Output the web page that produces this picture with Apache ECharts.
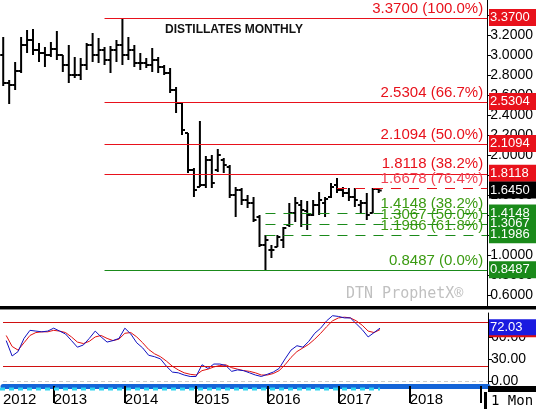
<!DOCTYPE html>
<html>
<head>
<meta charset="utf-8">
<script src="https://cdn.jsdelivr.net/npm/echarts@6/dist/echarts.min.js"></script>
<style>html,body{margin:0;padding:0;background:#fff}#main{width:536px;height:409px}</style>
</head>
<body>
<div id="main"></div>
<script>
// month index: 0 = Jan 2012; first bar is May 2012
var firstMonth = 4;
var opens  = [3.00,2.72,2.70,2.84,3.10,3.15,3.05,3.02,3.00,3.06,3.00,2.90,2.80,2.80,2.90,3.10,3.00,3.05,2.95,3.05,3.10,3.00,3.05,2.92,2.92,2.90,2.95,2.88,2.82,2.65,2.52,2.22,1.85,1.68,1.70,1.95,1.85,1.95,1.88,1.60,1.65,1.55,1.52,1.38,1.10,1.05,1.08,1.15,1.30,1.42,1.50,1.44,1.40,1.50,1.52,1.58,1.70,1.65,1.62,1.58,1.50,1.52,1.42,1.66];
var highs  = [3.18,2.75,2.93,3.18,3.25,3.26,3.12,3.08,3.13,3.24,3.00,3.10,2.98,2.97,3.12,3.22,3.17,3.08,3.09,3.15,3.37,3.18,3.10,3.02,2.97,3.07,2.98,2.90,2.87,2.68,2.53,2.22,1.87,2.34,1.99,2.00,2.06,1.97,1.90,1.68,1.67,1.60,1.58,1.40,1.20,1.10,1.20,1.28,1.52,1.58,1.55,1.54,1.55,1.63,1.58,1.72,1.77,1.68,1.67,1.67,1.55,1.62,1.67,1.67];
var lows   = [2.69,2.51,2.65,2.82,3.02,3.00,2.93,2.88,2.98,2.95,2.83,2.72,2.77,2.75,2.85,2.93,2.92,2.90,2.82,2.93,2.90,2.95,2.88,2.85,2.87,2.83,2.82,2.80,2.62,2.42,2.20,1.82,1.58,1.68,1.67,1.67,1.83,1.82,1.57,1.38,1.50,1.47,1.33,1.08,0.85,0.97,1.08,1.07,1.28,1.33,1.28,1.25,1.39,1.40,1.38,1.57,1.62,1.58,1.54,1.48,1.42,1.35,1.42,1.62];
var closes = [2.72,2.70,2.84,3.10,3.15,3.05,3.02,3.00,3.06,3.00,2.90,2.80,2.80,2.90,3.10,3.00,3.05,2.95,3.05,3.10,3.00,3.05,2.92,2.92,2.90,2.95,2.88,2.82,2.65,2.52,2.25,1.85,1.65,1.70,1.95,1.72,2.00,1.90,1.60,1.65,1.55,1.52,1.35,1.10,1.15,1.05,1.18,1.27,1.42,1.52,1.45,1.40,1.50,1.55,1.56,1.68,1.65,1.62,1.58,1.55,1.52,1.40,1.66,1.645];
var stochK = [55,34,40,58,69,68,67,68,72,68,64,55,46,49,58,68,60,53,55,58,72,64,52,45,35,33,30,20,12,11,8,6,6,22,17,23,23,21,13,15,14,11,8,6,9,12,17,30,42,48,46,54,65,72,82,89,88,86,86,78,70,60,66,72.03];
var stochD = [62,47,42,52,62,66,67,67,69,68,66,60,53,51,54,60,62,58,55,57,65,66,60,52,43,37,33,27,20,15,11,9,8,14,16,19,21,22,18,16,14,13,11,8,8,10,14,22,32,40,45,50,57,65,74,82,86,87,86,82,76,68,66,70];
var yearLabels = ['2012','2013','2014','2015','2016','2017','2018'];
// [value, text label, start month]
var fibRed   = [[3.37,'3.3700 (100.0%)',21],[2.5304,'2.5304 (66.7%)',21],[2.1094,'2.1094 (50.0%)',21],[1.8118,'1.8118 (38.2%)',21]];
var fibGreen = [[1.4148,'1.4148 (38.2%)',48],[1.3067,'1.3067 (50.0%)',48],[1.1986,'1.1986 (61.8%)',48]];
var fibLow   = [0.8487,'0.8487 (0.0%)',21];
var retrace  = [1.6678,'1.6678 (76.4%)',60];
var lastPrice = 1.645;

var XMIN = 3.46, XMAX = 85.2;
var RED = '#e8111b', GREEN = '#1a8a1a', LGREEN = '#3a9a10';
var fnt = 'Liberation Sans, Arial, sans-serif';

var ohlc = opens.map(function (o, i) {
  return [firstMonth + i, o, highs[i], lows[i], closes[i]];
});
var kData = stochK.map(function (v, i) { return [firstMonth + i, v]; });
var dData = stochD.map(function (v, i) { return [firstMonth + i, v]; });

function lineItem(v, txt, start, color, type, txtColor) {
  return [
    {coord: [start, v], lineStyle: {color: color, type: type, width: 1},
     label: {show: true, position: 'insideEndTop', formatter: txt, color: txtColor || color,
             fontSize: 15, fontFamily: fnt, distance: [4, 2]}},
    {coord: [XMAX, v]}
  ];
}

var marks = [];
fibRed.forEach(function (f) { marks.push(lineItem(f[0], f[1], f[2], RED, 'solid')); });
marks.push(lineItem(retrace[0], retrace[1], retrace[2], RED, [10, 8], '#f04050'));
fibGreen.forEach(function (f) { marks.push(lineItem(f[0], f[1], f[2], GREEN, [10, 8], LGREEN)); });
marks.push(lineItem(fibLow[0], fibLow[1], fibLow[2], GREEN, 'solid', LGREEN));

var priceTicks = [0.6,0.8,1.0,1.2,1.4,1.6,1.8,2.0,2.2,2.4,2.6,2.8,3.0,3.2,3.4];
var yearTicks = [12, 24, 36, 48, 60, 72, 84];

var chart = echarts.init(document.getElementById('main'));
chart.setOption({
  animation: false,
  grid: [
    {left: 0, right: 48, top: 0, height: 306},
    {left: 0, right: 48, top: 313, height: 73}
  ],
  xAxis: [
    {gridIndex: 0, type: 'value', min: XMIN, max: XMAX, show: false},
    {gridIndex: 1, type: 'value', min: XMIN, max: XMAX, splitLine: {show: false},
     axisLine: {show: true, onZero: false, lineStyle: {color: '#1565d8', width: 5}},
     axisTick: {show: true, length: 17, customValues: yearTicks, lineStyle: {color: '#000', width: 2}},
     axisLabel: {customValues: [XMIN, 12, 24, 36, 48, 60, 72], color: '#000', fontSize: 15, fontFamily: fnt,
                 align: 'left', margin: 6,
                 formatter: function (v) { return v < 12 ? yearLabels[0] : yearLabels[Math.round(v / 12)]; }}}
  ],
  yAxis: [
    {gridIndex: 0, type: 'value', position: 'right', min: 0.49, max: 3.55, splitLine: {show: false},
     axisLine: {show: true, lineStyle: {color: '#000'}},
     axisTick: {show: true, customValues: priceTicks, length: 4, lineStyle: {color: '#000'}},
     axisLabel: {customValues: priceTicks, color: '#000', fontSize: 14, fontFamily: fnt, margin: 3,
                 formatter: function (v) { return v.toFixed(4); }}},
    {gridIndex: 1, type: 'value', position: 'right', min: -7, max: 92.7, splitLine: {show: false},
     axisLine: {show: true, lineStyle: {color: '#000'}},
     axisTick: {show: true, customValues: [0, 30, 60], length: 4, lineStyle: {color: '#000'}},
     axisLabel: {customValues: [0, 30, 60], color: '#000', fontSize: 14, fontFamily: fnt, margin: 3,
                 formatter: function (v) { return v.toFixed(2); }}}
  ],
  series: [
    {type: 'custom', xAxisIndex: 0, yAxisIndex: 0, data: ohlc, clip: false,
     renderItem: function (params, api) {
       var x = api.coord([api.value(0), 0])[0];
       var yo = api.coord([0, api.value(1)])[1];
       var yh = api.coord([0, api.value(2)])[1];
       var yl = api.coord([0, api.value(3)])[1];
       var yc = api.coord([0, api.value(4)])[1];
       var st = {stroke: '#000', lineWidth: 2};
       return {type: 'group', children: [
         {type: 'line', shape: {x1: x, y1: yh, x2: x, y2: yl}, style: st},
         {type: 'line', shape: {x1: x - 3, y1: yo, x2: x, y2: yo}, style: st},
         {type: 'line', shape: {x1: x, y1: yc, x2: x + 3, y2: yc}, style: st}
       ]};
     },
     markLine: {silent: true, symbol: 'none', data: marks}},
    {type: 'line', xAxisIndex: 1, yAxisIndex: 1, data: dData, symbol: 'none',
     lineStyle: {color: '#e01010', width: 1},
     markLine: {silent: true, symbol: 'none', label: {show: false},
       data: [
         {yAxis: 80, lineStyle: {color: '#d01010', width: 1, type: 'solid'}},
         {yAxis: 20, lineStyle: {color: '#d01010', width: 1, type: 'solid'}},
         {yAxis: 0, lineStyle: {color: '#ccc', width: 1, type: [4, 3]}}
       ]}},
    {type: 'line', xAxisIndex: 1, yAxisIndex: 1, data: kData, symbol: 'none',
     lineStyle: {color: '#1010c0', width: 1}}
  ]
});

// price tags on right axis
var rightX = chart.convertToPixel({xAxisIndex: 1}, XMAX);
var lastX = chart.convertToPixel({xAxisIndex: 1}, firstMonth + opens.length - 1);
var tags = [];
function tag(v, txt, bg, gridY) {
  var y = chart.convertToPixel({yAxisIndex: gridY || 0}, v);
  tags.push({type: 'rect', shape: {x: rightX + 1, y: y - 9, width: 47, height: 17}, style: {fill: bg}, z: 10});
  tags.push({type: 'text', x: rightX + 2, y: y - 7, style: {text: txt, font: '13px ' + fnt, fill: '#fff'}, z: 11});
}
fibRed.forEach(function (f) { tag(f[0], f[0].toFixed(4), RED); });
tag(lastPrice, lastPrice.toFixed(4), '#000');
fibGreen.forEach(function (f) { tag(f[0], f[0].toFixed(4), GREEN); });
tag(fibLow[0], fibLow[0].toFixed(4), GREEN);
var lastK = stochK[stochK.length - 1];
tag(lastK, lastK.toFixed(2), '#1a1ae0', 1);
var yk = chart.convertToPixel({yAxisIndex: 1}, lastK);
tags.push({type: 'rect', shape: {x: rightX + 1, y: yk + 7, width: 47, height: 2}, style: {fill: '#e01010'}, z: 12});

chart.setOption({graphic: tags.concat([
  {type: 'text', left: 165, top: 24, style: {text: 'DISTILLATES MONTHLY', font: 'bold 12px ' + fnt, fill: '#111'}},
  {type: 'text', left: 346, top: 287, style: {text: 'DTN ProphetX\u00ae', font: '15px "DejaVu Sans Mono", monospace', fill: '#c0c0c0'}},
  {type: 'rect', shape: {x: 0, y: 306, width: 536, height: 3}, style: {fill: '#000'}, z: 10},
  {type: 'rect', shape: {x: 0, y: 309, width: 536, height: 1}, style: {fill: '#888'}, z: 10},
  {type: 'line', shape: {x1: 0, y1: 389, x2: lastX, y2: 389}, style: {stroke: '#2fd4f0', lineWidth: 3, lineDash: [5, 4]}, z: 10},
  {type: 'rect', shape: {x: rightX, y: 386, width: 48, height: 6}, style: {fill: '#000'}, z: 10},
  {type: 'rect', shape: {x: rightX - 4, y: 392, width: 3, height: 17}, style: {fill: '#000'}, z: 10},
  {type: 'text', left: rightX + 3, top: 394, style: {text: '1 Mon', font: '14px "DejaVu Sans Mono", monospace', fill: '#000'}}
])});
</script>
</body>
</html>
